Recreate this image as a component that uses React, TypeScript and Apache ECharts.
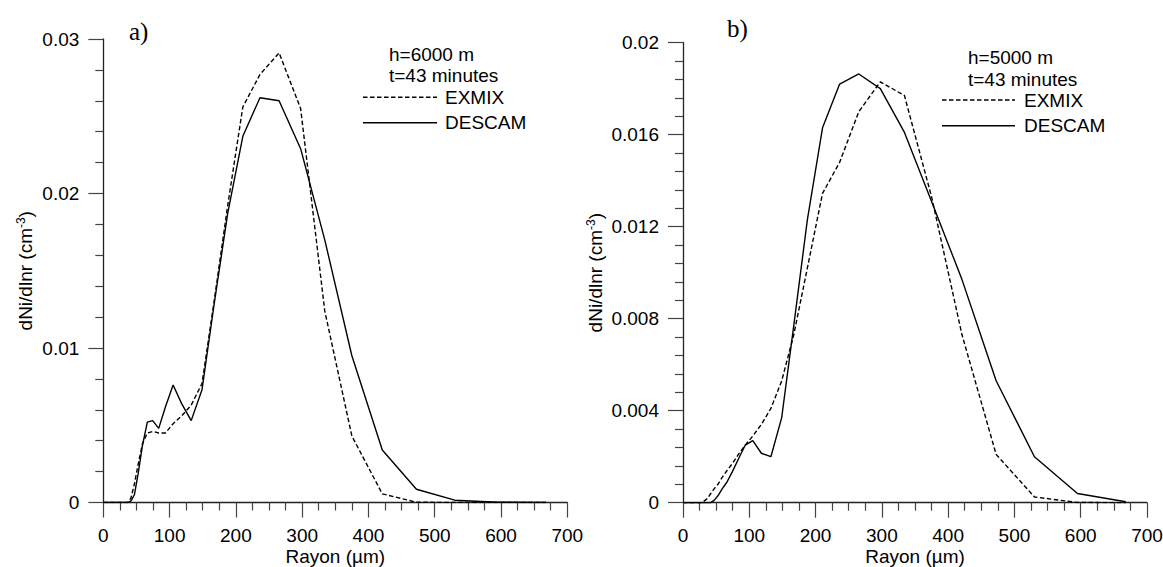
import React, { useEffect, useRef } from "react";
import * as echarts from "echarts";

// Radius grid (µm) shared by all curves
const radius = [0, 26.4, 29.6, 33.2, 37.3, 41.8, 46.9, 52.7, 59.1, 66.4, 74.5, 83.6, 93.8, 105.3, 118.2, 132.6, 148.9, 167.1, 187.6, 210.5, 236.3, 265.2, 297.7, 334.1, 375, 420.9, 472.4, 530.2, 595.1, 668];

// Panel a) h=6000 m
const aExmix = [0, 0, 0, 0, 0, 0.0003, 0.0012, 0.0025, 0.0038, 0.0045, 0.0046, 0.0045, 0.0045, 0.0051, 0.0056, 0.0063, 0.0077, 0.0130, 0.0192, 0.0256, 0.0277, 0.0291, 0.0255, 0.0124, 0.0043, 0.00056, 0.00002, 0, 0, 0];
const aDescam = [0, 0, 0, 0, 0, 0.0001, 0.0005, 0.0019, 0.0037, 0.0052, 0.0053, 0.0048, 0.0062, 0.0076, 0.0064, 0.0053, 0.0073, 0.0128, 0.0187, 0.0237, 0.0262, 0.0260, 0.0229, 0.0170, 0.0095, 0.0034, 0.00086, 0.00015, 0.00002, 0];

// Panel b) h=5000 m
const bExmix = [0, 0, 0.00003, 0.0001, 0.0002, 0.0004, 0.0006, 0.0008, 0.0011, 0.0014, 0.0017, 0.0021, 0.0025, 0.0029, 0.0034, 0.0041, 0.0053, 0.0073, 0.0102, 0.01345, 0.0148, 0.0170, 0.0183, 0.0177, 0.0133, 0.0073, 0.0021, 0.00025, 0.00001, 0];
const bDescam = [0, 0, 0, 0, 0, 0, 0.0001, 0.0003, 0.0006, 0.0009, 0.00135, 0.0019, 0.0025, 0.0027, 0.00215, 0.0020, 0.0037, 0.0077, 0.0123, 0.0163, 0.0182, 0.01864, 0.0180, 0.0161, 0.0131, 0.0097, 0.0053, 0.0020, 0.0004, 0.00004];

const panelLetters = ["a)", "b)"];
const panelHeights = ["h=6000 m", "h=5000 m"];
const panelTimes = ["t=43 minutes", "t=43 minutes"];
const seriesNames = ["EXMIX", "DESCAM"];
const xAxisTitle = "Rayon (µm)";
const yMax = [0.03, 0.02];
const yStep = [0.01, 0.004];
const xMax = 700;
const xStep = 100;

const FONT = '"Liberation Sans", Arial, sans-serif';
const SERIF = '"Liberation Serif", "Times New Roman", serif';
const DASH = [4.5, 2.5];

type LegendPos = {
  letterX: number; letterY: number;
  textX: number; hY: number; tY: number;
  lineX0: number; lineX1: number; exY: number; deY: number; labelX: number;
};

export default function App() {
  const ref = useRef<HTMLDivElement>(null);

  useEffect(() => {
    if (!ref.current) return;
    const chart = echarts.init(ref.current, undefined, { renderer: "svg" });

    const grids = [
      { left: 103.3, top: 39, width: 464, height: 463.5, outerBoundsMode: "none", containLabel: false },
      { left: 683, top: 42.7, width: 464, height: 460, outerBoundsMode: "none", containLabel: false },
    ];

    const axisLine = { show: true, lineStyle: { color: "#222", width: 1.3 } };
    const axisTick = { show: true, length: 15, lineStyle: { color: "#444", width: 1.2 } };
    const minorTickBase = { show: true, length: 8, lineStyle: { color: "#444", width: 1.2 } };

    const fmt = (v: number) => (v === 0 ? "0" : String(parseFloat(v.toFixed(4))));

    const xAxes = grids.map((_, i) => ({
      type: "value",
      gridIndex: i,
      min: 0,
      max: xMax,
      interval: xStep,
      minorTick: { ...minorTickBase, splitNumber: 4 },
      axisLine,
      axisTick,
      splitLine: { show: false },
      minorSplitLine: { show: false },
      axisLabel: { margin: 23, fontSize: 19, lineHeight: 19, color: "#000", fontFamily: FONT },
      name: xAxisTitle,
      nameLocation: "middle",
      nameGap: 53.5,
      nameMoveOverlap: false,
      nameTextStyle: { fontSize: 19, lineHeight: 19, verticalAlign: "middle", color: "#000", fontFamily: FONT },
    }));

    const yAxes = grids.map((_, i) => ({
      type: "value",
      gridIndex: i,
      min: 0,
      max: yMax[i],
      interval: yStep[i],
      minorTick: { ...minorTickBase, splitNumber: 5 },
      axisLine,
      axisTick,
      splitLine: { show: false },
      minorSplitLine: { show: false },
      axisLabel: { margin: 24, fontSize: 19, color: "#000", fontFamily: FONT, formatter: fmt },
      name: "dNi/dlnr (cm{sup|-3})",
      nameLocation: "middle",
      nameGap: i === 0 ? 68 : 78,
      nameRotate: 90,
      nameTextStyle: {
        fontSize: 19,
        color: "#000",
        fontFamily: FONT,
        rich: { sup: { fontSize: 12, verticalAlign: "top", color: "#000", fontFamily: FONT, padding: [0, 0, 8, 0] } },
      },
    }));

    const mk = (vals: number[]) => radius.map((r, k) => [r, vals[k]]);
    const line = (name: string, idx: number, vals: number[], dashed: boolean) => ({
      name,
      type: "line",
      xAxisIndex: idx,
      yAxisIndex: idx,
      data: mk(vals),
      symbol: "none",
      lineStyle: { color: "#000", width: 1.4, type: dashed ? DASH : "solid" },
    });

    const legendGraphic = (p: number, g: LegendPos) => [
      { type: "text", x: g.letterX, y: g.letterY, style: { text: panelLetters[p], font: `25px ${SERIF}`, fill: "#000", verticalAlign: "middle" } },
      { type: "text", x: g.textX, y: g.hY, style: { text: panelHeights[p], font: `19px ${FONT}`, fill: "#000", verticalAlign: "middle" } },
      { type: "text", x: g.textX, y: g.tY, style: { text: panelTimes[p], font: `19px ${FONT}`, fill: "#000", verticalAlign: "middle" } },
      { type: "line", shape: { x1: g.lineX0, y1: g.exY, x2: g.lineX1, y2: g.exY }, style: { stroke: "#000", lineWidth: 1.4, lineDash: DASH } },
      { type: "text", x: g.labelX, y: g.exY, style: { text: seriesNames[0], font: `19px ${FONT}`, fill: "#000", verticalAlign: "middle" } },
      { type: "line", shape: { x1: g.lineX0, y1: g.deY, x2: g.lineX1, y2: g.deY }, style: { stroke: "#000", lineWidth: 1.4 } },
      { type: "text", x: g.labelX, y: g.deY, style: { text: seriesNames[1], font: `19px ${FONT}`, fill: "#000", verticalAlign: "middle" } },
    ];

    chart.setOption({
      animation: false,
      backgroundColor: "#fff",
      grid: grids,
      xAxis: xAxes,
      yAxis: yAxes,
      series: [
        line(seriesNames[0], 0, aExmix, true),
        line(seriesNames[1], 0, aDescam, false),
        line(seriesNames[0], 1, bExmix, true),
        line(seriesNames[1], 1, bDescam, false),
      ],
      graphic: [
        ...legendGraphic(0, { letterX: 129, letterY: 31, textX: 389, hY: 54, tY: 75, lineX0: 363, lineX1: 437, exY: 97.3, deY: 122.7, labelX: 445 }),
        ...legendGraphic(1, { letterX: 727, letterY: 28, textX: 968, hY: 57, tY: 79, lineX0: 942, lineX1: 1015, exY: 100, deY: 125.7, labelX: 1024 }),
      ],
    });

    return () => chart.dispose();
  }, []);

  return (
    <div
      ref={ref}
      style={{ position: "fixed", left: 0, top: 0, width: 1163, height: 567, background: "#fff" }}
    />
  );
}
